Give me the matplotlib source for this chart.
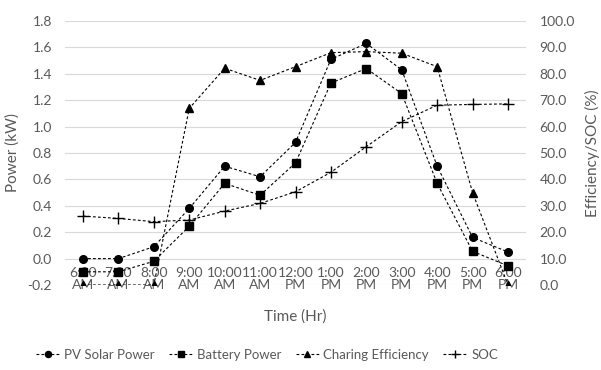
import matplotlib.pyplot as plt
from matplotlib.ticker import FormatStrFormatter

plt.rcParams["font.family"] = ["Lato", "DejaVu Sans"]

hours = ["6:00\nAM", "7:00\nAM", "8:00\nAM", "9:00\nAM", "10:00\nAM", "11:00\nAM", "12:00\nPM",
         "1:00\nPM", "2:00\nPM", "3:00\nPM", "4:00\nPM", "5:00\nPM", "6:00\nPM"]
pv_power = [0.0, 0.0, 0.09, 0.38, 0.70, 0.62, 0.88, 1.51, 1.63, 1.43, 0.70, 0.16, 0.05]
battery_power = [-0.10, -0.10, -0.02, 0.245, 0.57, 0.48, 0.725, 1.33, 1.44, 1.25, 0.57, 0.055, -0.055]
efficiency = [0.0, 0.0, 0.0, 66.9, 82.1, 77.5, 82.7, 88.0, 88.4, 87.8, 82.7, 35.0, 0.0]
soc = [26.1, 25.2, 24.0, 24.6, 28.0, 30.9, 35.3, 42.7, 52.4, 61.9, 68.1, 68.4, 68.6]

grey = "#595959"
x = list(range(len(hours)))

fig = plt.figure(figsize=(6.01, 3.70), dpi=100)
ax = fig.add_axes([65.3 / 601, 1 - 285 / 370, 460.4 / 601, 264 / 370])
ax2 = ax.twinx()

style = dict(color="black", linestyle=(0, (2.5, 2)), linewidth=0.8, markersize=5.5)
h1, = ax.plot(x, pv_power, marker="o", label="PV Solar Power", **style)
h2, = ax.plot(x, battery_power, marker="s", label="Battery Power", **style)
h3, = ax2.plot(x, efficiency, marker="^", label="Charing Efficiency", **style)
h4, = ax2.plot(x, soc, marker="+", label="SOC", markeredgewidth=1.0,
               **{**style, "markersize": 8})

ax.set_xlim(-0.5, len(hours) - 0.5)
ax.set_ylim(-0.2, 1.8)
ax.set_yticks([-0.2 + 0.2 * i for i in range(11)])
ax.yaxis.set_major_formatter(FormatStrFormatter("%.1f"))
ax2.set_ylim(0, 100)
ax2.set_yticks(range(0, 101, 10))
ax2.yaxis.set_major_formatter(FormatStrFormatter("%.1f"))

ax.grid(axis="y", color="#d9d9d9", linewidth=0.8)
ax.set_axisbelow(True)
for a in (ax, ax2):
    for s in a.spines.values():
        s.set_visible(False)
    a.tick_params(length=0, labelsize=10, labelcolor=grey)

# category labels hang below the zero line
ax.spines["bottom"].set_position(("data", 0))
ax.set_xticks(x)
ax.set_xticklabels(hours, linespacing=1.0)
ax.tick_params(axis="x", pad=6)
ax.tick_params(axis="y", pad=9.5)
ax2.tick_params(axis="y", pad=10)

ax.set_ylabel("Power (kW)", color=grey, fontsize=11, labelpad=6)
ax2.set_ylabel("Efficiency/SOC (%)", color=grey, fontsize=11, labelpad=7)
fig.text(295.5 / 601, 1 - 317 / 370, "Time (Hr)", color=grey, fontsize=11, ha="center", va="center")

fig.legend(handles=[h1, h2, h3, h4], loc="center", bbox_to_anchor=(267 / 601, 1 - 355 / 370),
           ncol=4, frameon=False, fontsize=9.5, labelcolor=grey, handlelength=1.8,
           columnspacing=1.1, handletextpad=0.3, markerscale=0.8)

fig.savefig("out.png", dpi=100)
